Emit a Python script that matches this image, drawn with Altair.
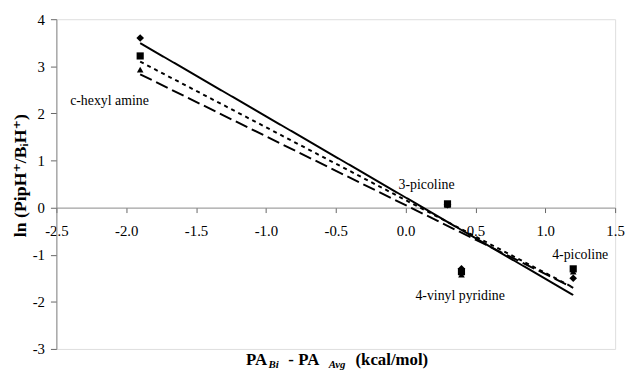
import altair as alt
import pandas as pd

x_vals = [-1.9, 0.3, 0.4, 1.2]
diamond_y = [3.6, 0.06, -1.3, -1.5]
square_y = [3.22, 0.08, -1.36, -1.3]
triangle_y = [2.93, 0.06, -1.42, -1.36]
series_names = ["diamond", "square", "triangle"]

label_text = ["c-hexyl amine", "3-picoline", "4-vinyl pyridine", "4-picoline"]
label_x = [-2.12, 0.15, 0.39, 1.25]
label_y = [2.26, 0.48, -1.87, -1.0]

x_ticks = [-2.5, -2.0, -1.5, -1.0, -0.5, 0.0, 0.5, 1.0, 1.5]
y_ticks = [-3, -2, -1, 0, 1, 2, 3, 4]

rows = []
for name, ys in zip(series_names, [diamond_y, square_y, triangle_y]):
    for x, y in zip(x_vals, ys):
        rows.append({"x": x, "y": y, "series": name})
df = pd.DataFrame(rows)
labels_df = pd.DataFrame({"x": label_x, "y": label_y, "text": label_text})

FONT = "Times New Roman, Liberation Serif, DejaVu Serif, serif"
W, H = 566, 334

xscale = alt.Scale(domain=[-2.5, 1.5], nice=False, zero=False)
yscale = alt.Scale(domain=[-3, 4], nice=False, zero=False)

xaxis = alt.Axis(values=x_ticks, title=None, grid=False,
                 labelExpr="replace(format(datum.value, '.1f'), '\u2212', '-')",
                 offset=-(H * 3 / 7), domainColor="#888888", tickColor="#666666",
                 tickSize=5, labelPadding=11, labelFont=FONT, labelFontSize=15,
                 labelColor="black", labelFlush=False)
yaxis = alt.Axis(values=y_ticks, title="ln (PipH⁺/BᵢH⁺)", grid=False,
                 labelExpr="replace(format(datum.value, 'd'), '\u2212', '-')",
                 domainColor="#888888", tickColor="#666666", tickSize=6,
                 labelPadding=6, labelFont=FONT, labelFontSize=15, labelColor="black",
                 titleFont=FONT, titleFontSize=18, titleFontWeight="bold",
                 titleColor="black", titlePadding=3, titleY=158)

shape_scale = alt.Scale(domain=series_names, range=["diamond", "square", "triangle-up"])
size_scale = alt.Scale(domain=series_names, range=[60, 45, 50])
dash_scale = alt.Scale(domain=series_names, range=[[1, 0], [4, 4], [13, 5]])

base = alt.Chart(df)

lines = base.transform_regression("x", "y", groupby=["series"]).mark_line(
    color="black", strokeWidth=2
).encode(
    x=alt.X("x:Q", scale=xscale, axis=xaxis),
    y=alt.Y("y:Q", scale=yscale, axis=yaxis),
    strokeDash=alt.StrokeDash("series:N", scale=dash_scale, legend=None),
    detail="series:N",
)

points = base.mark_point(filled=True, color="black", opacity=1).encode(
    x=alt.X("x:Q", scale=xscale),
    y=alt.Y("y:Q", scale=yscale),
    shape=alt.Shape("series:N", scale=shape_scale, legend=None),
    size=alt.Size("series:N", scale=size_scale, legend=None),
    order=alt.Order("series:N", sort="descending"),
)

labels = alt.Chart(labels_df).mark_text(font=FONT, fontSize=14, color="black").encode(
    x=alt.X("x:Q", scale=xscale),
    y=alt.Y("y:Q", scale=yscale),
    text="text:N",
)

one = pd.DataFrame({"a": [0]})
title_parts = [
    ("PA", 192, 350, 17, "normal"),
    ("Bi", 215, 353, 11, "italic"),
    ("- PA", 235, 350, 17, "normal"),
    ("Avg", 276, 353, 11, "italic"),
    ("(kcal/mol)", 303, 350, 17, "normal"),
]
title_layers = []
for txt, px, py, fs, style in title_parts:
    title_layers.append(
        alt.Chart(one).mark_text(font=FONT, fontSize=fs, fontWeight="bold",
                                 fontStyle=style, align="left", baseline="alphabetic",
                                 color="black").encode(
            x=alt.value(px), y=alt.value(py), text=alt.value(txt)
        )
    )

chart = alt.layer(lines, points, labels, *title_layers).properties(
    width=W, height=H,
    autosize=alt.AutoSizeParams(type="none"),
    padding={"left": 49, "top": 9, "right": 10, "bottom": 20},
).configure_view(stroke="#999999", strokeWidth=1).configure(background="white")

chart.save("out.html", embed_options={"renderer": "svg", "actions": False})
